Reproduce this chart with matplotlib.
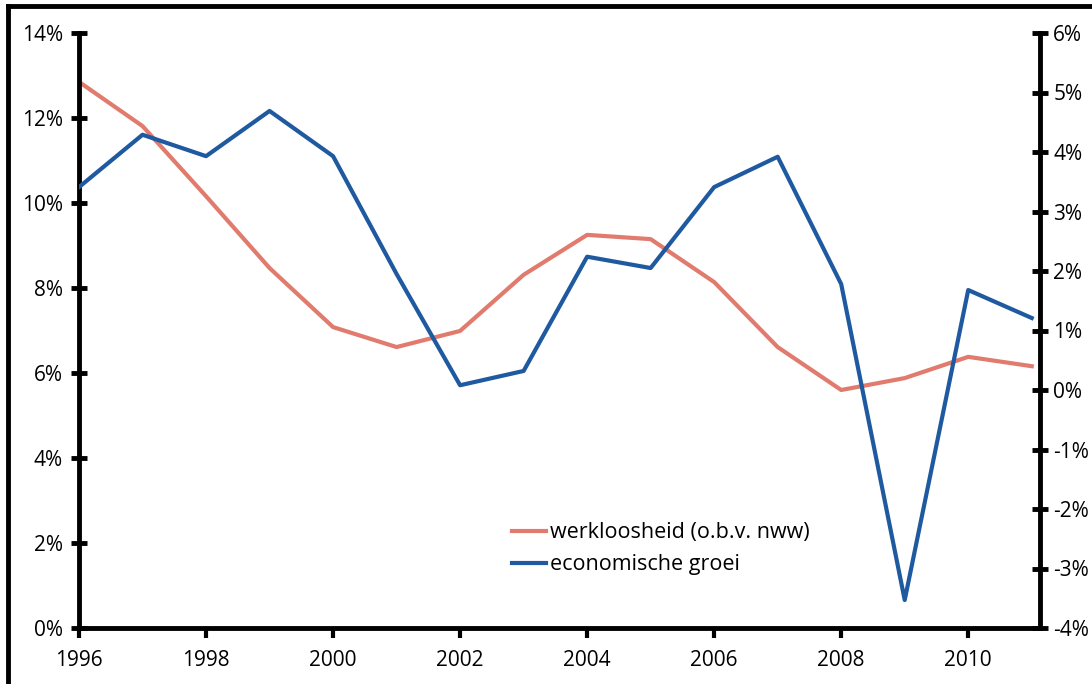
import matplotlib.pyplot as plt
from matplotlib.lines import Line2D
from matplotlib.ticker import FuncFormatter

plt.rcParams['font.family'] = ['Open Sans', 'DejaVu Sans']

# data
years = list(range(1996, 2012))
werkloosheid = [12.85, 11.81, 10.16, 8.47, 7.08, 6.61, 6.99, 8.31,
                9.25, 9.15, 8.14, 6.61, 5.60, 5.88, 6.38, 6.16]
groei = [3.41, 4.29, 3.93, 4.69, 3.93, 1.95, 0.08, 0.32,
         2.24, 2.05, 3.41, 3.92, 1.78, -3.53, 1.68, 1.21]

red = '#E07B6E'
blue = '#1F5AA0'

fig = plt.figure(figsize=(10.92, 6.84), dpi=100)
ax = fig.add_axes([79 / 1092, 1 - 628 / 684, (1040 - 79) / 1092, (628 - 33) / 684])
ax2 = ax.twinx()

ax.plot(years, werkloosheid, color=red, lw=3, label='werkloosheid (o.b.v. nww)')
ax2.plot(years, groei, color=blue, lw=3, label='economische groei')

ax.set_xlim(1996, 2011.13)
ax.set_ylim(0, 14)
ax2.set_ylim(-4, 6)
ax.set_xticks(range(1996, 2012, 2))
ax.set_yticks(range(0, 15, 2))
ax2.set_yticks(range(-4, 7))
ax.yaxis.set_major_formatter(FuncFormatter(lambda v, p: f'{v:.0f}%'))
ax2.yaxis.set_major_formatter(FuncFormatter(lambda v, p: f'{v:.0f}%'))

for a in (ax, ax2):
    a.spines['top'].set_visible(False)
    for s in a.spines.values():
        s.set_linewidth(3.5)
ax2.spines['left'].set_visible(False)
ax2.spines['bottom'].set_visible(False)
ax.spines['right'].set_visible(False)

ax.tick_params(axis='y', direction='inout', length=11, width=3.5, labelsize=15, pad=6)
ax2.tick_params(axis='y', direction='inout', length=11, width=3.5, labelsize=15, pad=4)
ax.tick_params(axis='x', direction='out', length=7, width=3, labelsize=15, pad=9)

handles = [Line2D([], [], color=red, lw=3), Line2D([], [], color=blue, lw=3)]
ax.legend(handles, ['werkloosheid (o.b.v. nww)', 'economische groei'],
          loc='upper left', bbox_to_anchor=(0.43, 0.21), frameon=False,
          fontsize=15.5, handlelength=1.6, handletextpad=0.2, labelspacing=0.5)

# outer frame (left and top only, as in the cropped reference)
fig.add_artist(Line2D([8 / 1092, 8 / 1092], [0, 1 - 6 / 684], color='black', lw=3.5,
                      transform=fig.transFigure))
fig.add_artist(Line2D([8 / 1092, 1], [1 - 6 / 684, 1 - 6 / 684], color='black', lw=3.5,
                      transform=fig.transFigure))

fig.savefig('out.png', dpi=100)
